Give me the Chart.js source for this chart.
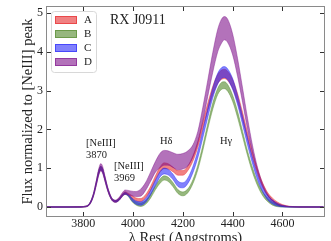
<!DOCTYPE html>
<html>
<head>
<meta charset="utf-8">
<script src="https://cdn.jsdelivr.net/npm/chart.js@4.4.0/dist/chart.umd.min.js"></script>
<style>
  html, body { margin: 0; padding: 0; background: #fff; }
  #wrap { width: 331px; height: 241px; }
</style>
</head>
<body>
<div id="wrap"><canvas id="specChart" width="331" height="241"></canvas></div>
<script>
// rest wavelength grid (Angstroms)
const wavelength = [3650, 3750, 3790, 3810, 3825, 3840, 3852, 3862, 3870, 3878, 3888, 3900, 3915, 3930, 3945, 3958, 3968, 3980,
  3995, 4010, 4030, 4050, 4070, 4090, 4110, 4125, 4140, 4160, 4180, 4200, 4220, 4240, 4260, 4280, 4300, 4320, 4340, 4355,
  4367, 4380, 4400, 4420, 4440, 4460, 4480, 4500, 4520, 4540, 4560, 4580, 4600, 4630, 4670, 4765];

// lower / upper edges of each image's band (flux / [NeIII] peak)
const aLow = [-0.005, -0.005, -0.003, 0.008, 0.065, 0.275, 0.585, 0.855, 0.955, 0.89, 0.665, 0.395, 0.18, 0.13, 0.19, 0.305, 0.345, 0.31,
  0.22, 0.16, 0.14, 0.24, 0.43, 0.70, 0.92, 0.99, 0.98, 0.91, 0.82, 0.82, 0.94, 1.18, 1.54, 2.01, 2.48, 2.89, 3.18, 3.29,
  3.31, 3.26, 3.05, 2.70, 2.24, 1.75, 1.27, 0.86, 0.53, 0.30, 0.15, 0.05, 0.015, 0.004, -0.002, -0.005];
const aHigh = [0.008, 0.008, 0.01, 0.024, 0.095, 0.325, 0.655, 0.945, 1.05, 0.975, 0.735, 0.445, 0.22, 0.17, 0.235, 0.345, 0.395, 0.355,
  0.30, 0.24, 0.22, 0.32, 0.53, 0.81, 1.05, 1.14, 1.12, 1.03, 0.94, 0.94, 1.06, 1.32, 1.70, 2.19, 2.68, 3.11, 3.42, 3.53,
  3.55, 3.50, 3.29, 2.92, 2.44, 1.91, 1.41, 0.98, 0.63, 0.38, 0.23, 0.13, 0.065, 0.02, 0.008, 0.008];

const bLow = [-0.005, -0.005, -0.003, 0.008, 0.065, 0.275, 0.585, 0.855, 0.955, 0.89, 0.665, 0.395, 0.18, 0.13, 0.185, 0.29, 0.325, 0.28,
  0.145, 0.06, 0.015, 0.073, 0.23, 0.45, 0.626, 0.695, 0.666, 0.527, 0.35, 0.29, 0.37, 0.60, 0.96, 1.455, 2.01, 2.52, 2.90, 3.03,
  3.05, 2.985, 2.72, 2.30, 1.81, 1.32, 0.89, 0.55, 0.30, 0.145, 0.05, 0.01, 0.0, -0.003, -0.004, -0.005];
const bHigh = [0.008, 0.008, 0.01, 0.024, 0.095, 0.325, 0.655, 0.945, 1.05, 0.975, 0.735, 0.445, 0.22, 0.17, 0.225, 0.33, 0.37, 0.32,
  0.215, 0.14, 0.105, 0.167, 0.33, 0.55, 0.734, 0.805, 0.774, 0.633, 0.45, 0.39, 0.47, 0.70, 1.08, 1.585, 2.15, 2.68, 3.06, 3.21,
  3.23, 3.155, 2.88, 2.46, 1.95, 1.44, 1.01, 0.65, 0.40, 0.235, 0.13, 0.07, 0.03, 0.01, 0.008, 0.008];

const cLow = [-0.005, -0.005, -0.003, 0.008, 0.065, 0.275, 0.585, 0.855, 0.955, 0.89, 0.665, 0.395, 0.18, 0.13, 0.185, 0.295, 0.33, 0.29,
  0.165, 0.08, 0.045, 0.12, 0.31, 0.56, 0.79, 0.855, 0.83, 0.71, 0.53, 0.495, 0.61, 0.88, 1.27, 1.78, 2.31, 2.81, 3.17, 3.31,
  3.34, 3.28, 3.03, 2.63, 2.12, 1.59, 1.11, 0.70, 0.40, 0.19, 0.08, 0.025, 0.005, -0.002, -0.004, -0.005];
const cHigh = [0.008, 0.008, 0.01, 0.024, 0.095, 0.325, 0.655, 0.945, 1.05, 0.975, 0.735, 0.445, 0.22, 0.17, 0.225, 0.335, 0.375, 0.33,
  0.235, 0.16, 0.135, 0.22, 0.43, 0.70, 0.93, 1.005, 0.975, 0.85, 0.67, 0.625, 0.75, 1.04, 1.45, 1.98, 2.55, 3.07, 3.45, 3.59,
  3.62, 3.56, 3.31, 2.87, 2.34, 1.79, 1.27, 0.84, 0.52, 0.31, 0.18, 0.095, 0.045, 0.014, 0.008, 0.008];

const dLow = [-0.005, -0.005, -0.003, 0.006, 0.06, 0.26, 0.55, 0.82, 0.93, 0.86, 0.63, 0.37, 0.17, 0.12, 0.18, 0.28, 0.33, 0.31,
  0.29, 0.27, 0.28, 0.43, 0.66, 0.90, 1.02, 1.08, 1.08, 1.02, 0.96, 0.98, 1.06, 1.28, 1.64, 2.20, 2.85, 3.47, 4.00, 4.22,
  4.31, 4.24, 3.92, 3.36, 2.69, 2.00, 1.39, 0.90, 0.54, 0.30, 0.16, 0.077, 0.034, 0.008, -0.002, -0.005];
const dHigh = [0.01, 0.01, 0.012, 0.026, 0.10, 0.34, 0.68, 0.99, 1.12, 1.04, 0.77, 0.47, 0.23, 0.18, 0.26, 0.38, 0.44, 0.43,
  0.41, 0.40, 0.46, 0.63, 0.90, 1.18, 1.40, 1.46, 1.45, 1.40, 1.36, 1.38, 1.45, 1.60, 1.95, 2.57, 3.27, 3.98, 4.58, 4.84,
  4.91, 4.84, 4.46, 3.82, 3.06, 2.28, 1.58, 1.02, 0.61, 0.34, 0.18, 0.09, 0.04, 0.012, 0.008, 0.008];

const imageNames = ['A', 'B', 'C', 'D'];
const xTicks = [3800, 4000, 4200, 4400, 4600];
const yTicks = [0, 1, 2, 3, 4, 5];

// text labels, placed in data coordinates
const noteTexts = ['RX J0911', '[NeIII]', '3870', '[NeIII]', '3969', 'H\u03b4', 'H\u03b3'];
const noteX = [3907, 3811, 3811, 3923, 3923, 4108, 4349];
const noteY = [4.82, 1.65, 1.34, 1.06, 0.75, 1.70, 1.70];
const noteSize = [14, 10.5, 10.5, 10.5, 10.5, 10.5, 10.5];

const serif = "'Liberation Serif', 'DejaVu Serif', serif";
const bandColors = ['rgba(228,26,28,0.55)', 'rgba(80,135,40,0.6)', 'rgba(25,25,250,0.55)', 'rgba(128,20,140,0.6)'];
const bandLows = [aLow, bLow, cLow, dLow];
const bandHighs = [aHigh, bHigh, cHigh, dHigh];
const drawOrder = [3, 2, 1, 0]; // D on top, like matplotlib's last call

function toPoints(ys) {
  return wavelength.map((w, i) => ({ x: w, y: ys[i] }));
}

const datasets = [];
imageNames.forEach((name, k) => {
  const common = {
    borderColor: bandColors[k],
    backgroundColor: bandColors[k],
    borderWidth: 0.7,
    pointRadius: 0,
    cubicInterpolationMode: 'monotone',
    order: drawOrder[k]
  };
  datasets.push(Object.assign({ label: name + ' low', data: toPoints(bandLows[k]), fill: false }, common));
  datasets.push(Object.assign({ label: name, data: toPoints(bandHighs[k]), fill: '-1' }, common));
});

const framePlugin = {
  id: 'frame',
  afterDatasetsDraw(chart) {
    const { ctx, scales: { x, y } } = chart;
    ctx.save();
    ctx.fillStyle = '#222';
    ctx.textAlign = 'left';
    ctx.textBaseline = 'middle';
    noteTexts.forEach((t, i) => {
      ctx.font = noteSize[i] + 'px ' + serif;
      ctx.fillText(t, x.getPixelForValue(noteX[i]), y.getPixelForValue(noteY[i]));
    });
    ctx.restore();
  },
  afterDraw(chart) {
    const { ctx, chartArea: a, scales: { x, y } } = chart;
    ctx.save();
    // spines
    ctx.strokeStyle = '#8a8a8a';
    ctx.lineWidth = 1;
    ctx.strokeRect(a.left - 0.5, a.top - 0.5, a.right - a.left + 1, a.bottom - a.top + 1);
    // inward ticks on all four sides
    ctx.strokeStyle = '#333';
    ctx.beginPath();
    xTicks.forEach(v => {
      const px = Math.round(x.getPixelForValue(v)) + 0.5;
      ctx.moveTo(px, a.bottom); ctx.lineTo(px, a.bottom - 4);
      ctx.moveTo(px, a.top); ctx.lineTo(px, a.top + 4);
    });
    yTicks.forEach(v => {
      const py = Math.round(y.getPixelForValue(v)) + 0.5;
      ctx.moveTo(a.left, py); ctx.lineTo(a.left + 4, py);
      ctx.moveTo(a.right, py); ctx.lineTo(a.right - 4, py);
    });
    ctx.stroke();

    // legend box
    const lx = 51, ly = 11, lw = 45, lh = 61;
    ctx.beginPath();
    ctx.roundRect(lx + 0.5, ly + 0.5, lw, lh, 3);
    ctx.fillStyle = 'rgba(255,255,255,0.85)';
    ctx.fill();
    ctx.strokeStyle = '#d8d8d8';
    ctx.stroke();
    ctx.font = '11px ' + serif;
    ctx.textBaseline = 'middle';
    imageNames.forEach((name, k) => {
      const cy = 20 + k * 14;
      ctx.fillStyle = bandColors[k];
      ctx.fillRect(55, cy - 4, 22, 8);
      ctx.strokeStyle = bandColors[k];
      ctx.strokeRect(55.5, cy - 3.5, 21, 7);
      ctx.fillStyle = '#222';
      ctx.fillText(name, 84, cy);
    });
    ctx.restore();
  }
};

new Chart(document.getElementById('specChart'), {
  type: 'line',
  data: { datasets: datasets },
  options: {
    responsive: false,
    animation: false,
    devicePixelRatio: 1,
    layout: { padding: { top: 7, right: 7, left: 0, bottom: 0 } },
    plugins: { legend: { display: false }, tooltip: { enabled: false } },
    scales: {
      x: {
        type: 'linear', min: 3654, max: 4767,
        afterBuildTicks: s => { s.ticks = xTicks.map(v => ({ value: v })); },
        afterFit: s => { s.height = 25; s.paddingLeft = 0; s.paddingRight = 0; },
        grid: { display: false, drawTicks: false }, border: { display: false },
        ticks: { font: { family: serif, size: 12 }, color: '#222', padding: 1, maxRotation: 0, autoSkip: false,
                 callback: v => String(v) },
        title: { display: true, text: '\u03bb Rest (Angstroms)', font: { family: serif, size: 14.5 }, color: '#222',
                 padding: { top: 0, bottom: -6 } }
      },
      y: {
        type: 'linear', min: -0.23, max: 5.155,
        afterBuildTicks: s => { s.ticks = yTicks.map(v => ({ value: v })); },
        afterFit: s => { s.width = 47; s.paddingTop = 0; s.paddingBottom = 0; },
        grid: { display: false, drawTicks: false }, border: { display: false },
        ticks: { font: { family: serif, size: 12 }, color: '#222', padding: 4, autoSkip: false,
                 callback: v => String(v) },
        title: { display: true, text: 'Flux normalized to [NeIII] peak', font: { family: serif, size: 14.5 }, color: '#222',
                 padding: { top: 19, bottom: 0 } }
      }
    }
  },
  plugins: [framePlugin]
});
</script>
</body>
</html>
